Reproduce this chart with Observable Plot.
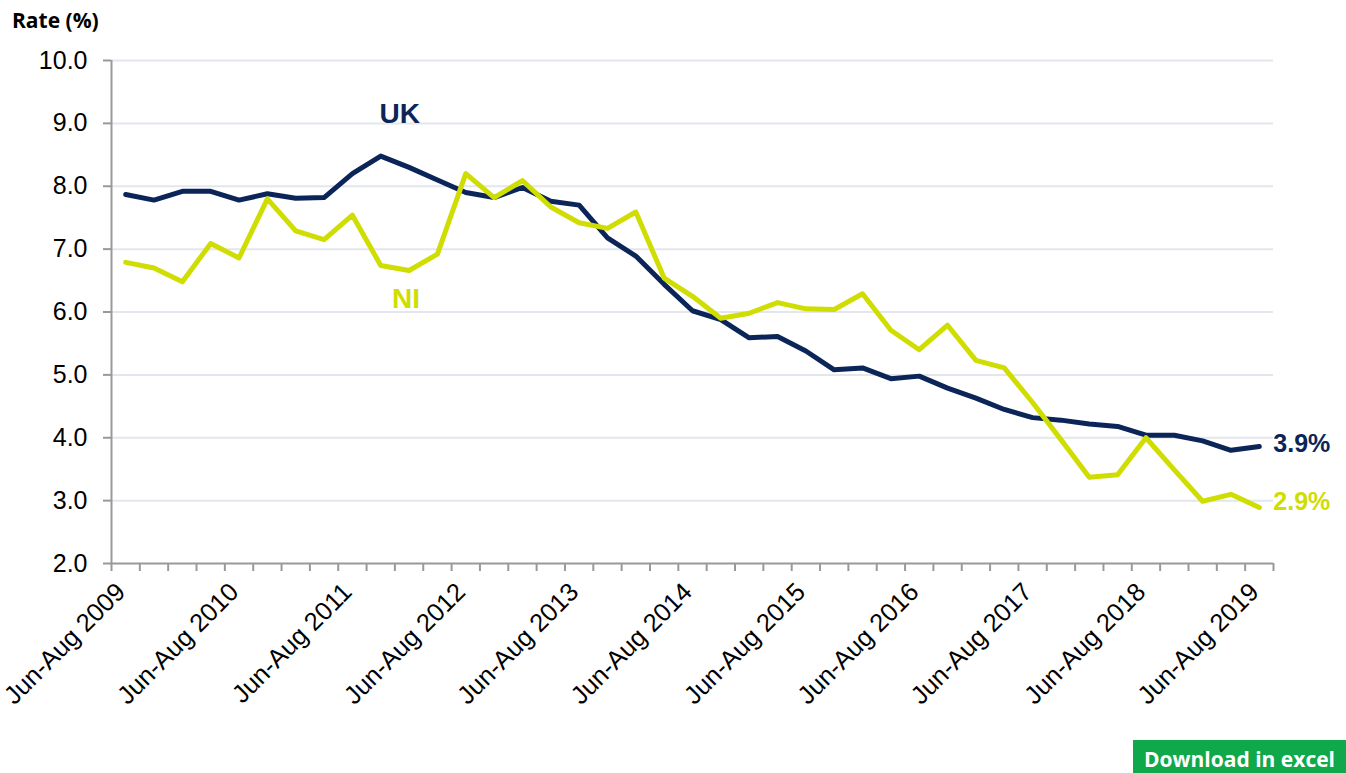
<!DOCTYPE html>
<html>
<head>
<meta charset="utf-8">
<script src="https://cdn.jsdelivr.net/npm/d3@7"></script>
<script src="https://cdn.jsdelivr.net/npm/@observablehq/plot@0.6"></script>
<style>
  html, body { margin: 0; padding: 0; background: #fff; width: 1346px; height: 773px; overflow: hidden; }
  #wrap { position: relative; width: 1346px; height: 773px; }
  #chart { position: absolute; left: 0; top: 0; }
  #title { position: absolute; left: 12px; top: 7px; font: bold 21px "Open Sans", sans-serif; line-height: 26px; color: #000; white-space: nowrap; }
  #btn { position: absolute; left: 1133px; top: 740px; width: 213px; height: 40px; background: #0fa84b; color: #fff;
         font: bold 21px "Open Sans", sans-serif; line-height: 33px; padding-top: 3px; padding-left: 11px; box-sizing: border-box; white-space: nowrap; }
</style>
</head>
<body>
<div id="wrap">
  <div id="title">Rate (%)</div>
  <div id="chart"></div>
  <div id="btn">Download in excel</div>
</div>
<script>
// Quarter labels (rolling three-month periods)
const quarters = [
  "Jun-Aug 2009","Sep-Nov 2009","Dec-Feb 2010","Mar-May 2010",
  "Jun-Aug 2010","Sep-Nov 2010","Dec-Feb 2011","Mar-May 2011",
  "Jun-Aug 2011","Sep-Nov 2011","Dec-Feb 2012","Mar-May 2012",
  "Jun-Aug 2012","Sep-Nov 2012","Dec-Feb 2013","Mar-May 2013",
  "Jun-Aug 2013","Sep-Nov 2013","Dec-Feb 2014","Mar-May 2014",
  "Jun-Aug 2014","Sep-Nov 2014","Dec-Feb 2015","Mar-May 2015",
  "Jun-Aug 2015","Sep-Nov 2015","Dec-Feb 2016","Mar-May 2016",
  "Jun-Aug 2016","Sep-Nov 2016","Dec-Feb 2017","Mar-May 2017",
  "Jun-Aug 2017","Sep-Nov 2017","Dec-Feb 2018","Mar-May 2018",
  "Jun-Aug 2018","Sep-Nov 2018","Dec-Feb 2019","Mar-May 2019",
  "Jun-Aug 2019"
];
// UK rate (%)
const uk = [7.87, 7.78, 7.92, 7.92, 7.78, 7.88, 7.81, 7.82, 8.20, 8.48, 8.30, 8.10,
            7.90, 7.82, 7.98, 7.76, 7.70, 7.18, 6.89, 6.44, 6.02, 5.88, 5.59, 5.61, 5.38, 5.08,
            5.11, 4.94, 4.98, 4.79, 4.63, 4.45, 4.32, 4.28, 4.22, 4.18, 4.04, 4.04, 3.95, 3.80, 3.86];
// NI rate (%)
const ni = [6.79, 6.70, 6.48, 7.09, 6.86, 7.80, 7.29, 7.15, 7.54, 6.74, 6.66, 6.92,
            8.20, 7.82, 8.09, 7.67, 7.42, 7.33, 7.59, 6.54, 6.25, 5.90, 5.98, 6.15, 6.05, 6.04,
            6.29, 5.71, 5.40, 5.79, 5.23, 5.11, 4.56, 3.97, 3.37, 3.41, 4.00, 3.49, 2.99, 3.10, 2.89];
// Axis tick values
const yTicks = [2, 3, 4, 5, 6, 7, 8, 9, 10];
const xLabelIdx = [0, 4, 8, 12, 16, 20, 24, 28, 32, 36, 40];

const UK_COLOR = "#0b2559";
const NI_COLOR = "#cfdd00";

const ukData = uk.map((v, i) => ({i, v}));
const niData = ni.map((v, i) => ({i, v}));
const boundaries = d3.range(quarters.length + 1).map(k => k - 0.5);
const last = quarters.length - 1;

const chart = Plot.plot({
  width: 1346,
  height: 740,
  marginLeft: 111,
  marginRight: 73,
  marginTop: 60,
  marginBottom: 177,
  style: {fontFamily: "'Liberation Sans', Arial, sans-serif", fontSize: "25px", color: "#000", background: "transparent", overflow: "visible"},
  x: {domain: [-0.5, quarters.length - 0.5], axis: null},
  y: {domain: [2, 10], axis: null},
  marks: [
    Plot.ruleY(yTicks.slice(1), {stroke: "#e3e6ec", strokeWidth: 2}),
    Plot.axisY({ticks: yTicks, tickFormat: d => d.toFixed(1), tickSize: 8, tickPadding: 16,
                stroke: "#999", strokeWidth: 2, fill: "#000", fontSize: 25, label: null}),
    Plot.axisX({ticks: boundaries, tickFormat: () => "", tickSize: 8, stroke: "#999", strokeWidth: 2, label: null}),
    Plot.ruleY([2], {stroke: "#999", strokeWidth: 2}),
    Plot.ruleX([-0.5], {stroke: "#999", strokeWidth: 2}),
    Plot.text(xLabelIdx, {x: d => d, text: d => quarters[d], frameAnchor: "bottom", dy: 30, dx: 1,
                          rotate: -45, textAnchor: "end", fontSize: 25.5, fill: "#000"}),
    Plot.line(ukData, {x: "i", y: "v", stroke: UK_COLOR, strokeWidth: 5, strokeLinejoin: "round", strokeLinecap: "round"}),
    Plot.line(niData, {x: "i", y: "v", stroke: NI_COLOR, strokeWidth: 5, strokeLinejoin: "round", strokeLinecap: "round"}),
    // Series names
    Plot.text([ukData[9]], {x: "i", y: "v", text: () => "UK", dx: 19, dy: -42, fontSize: 28, fontWeight: "bold", fill: UK_COLOR}),
    Plot.text([niData[10]], {x: "i", y: "v", text: () => "NI", dx: -3, dy: 29, fontSize: 28, fontWeight: "bold", fill: NI_COLOR}),
    // End labels
    Plot.text([ukData[last]], {x: "i", y: "v", text: d => d.v.toFixed(1) + "%", dx: 14, dy: -3, textAnchor: "start", fontSize: 25, fontWeight: "bold", fill: UK_COLOR}),
    Plot.text([niData[last]], {x: "i", y: "v", text: d => d.v.toFixed(1) + "%", dx: 14, dy: -6, textAnchor: "start", fontSize: 25, fontWeight: "bold", fill: NI_COLOR})
  ]
});
document.getElementById("chart").appendChild(chart);
</script>
</body>
</html>
